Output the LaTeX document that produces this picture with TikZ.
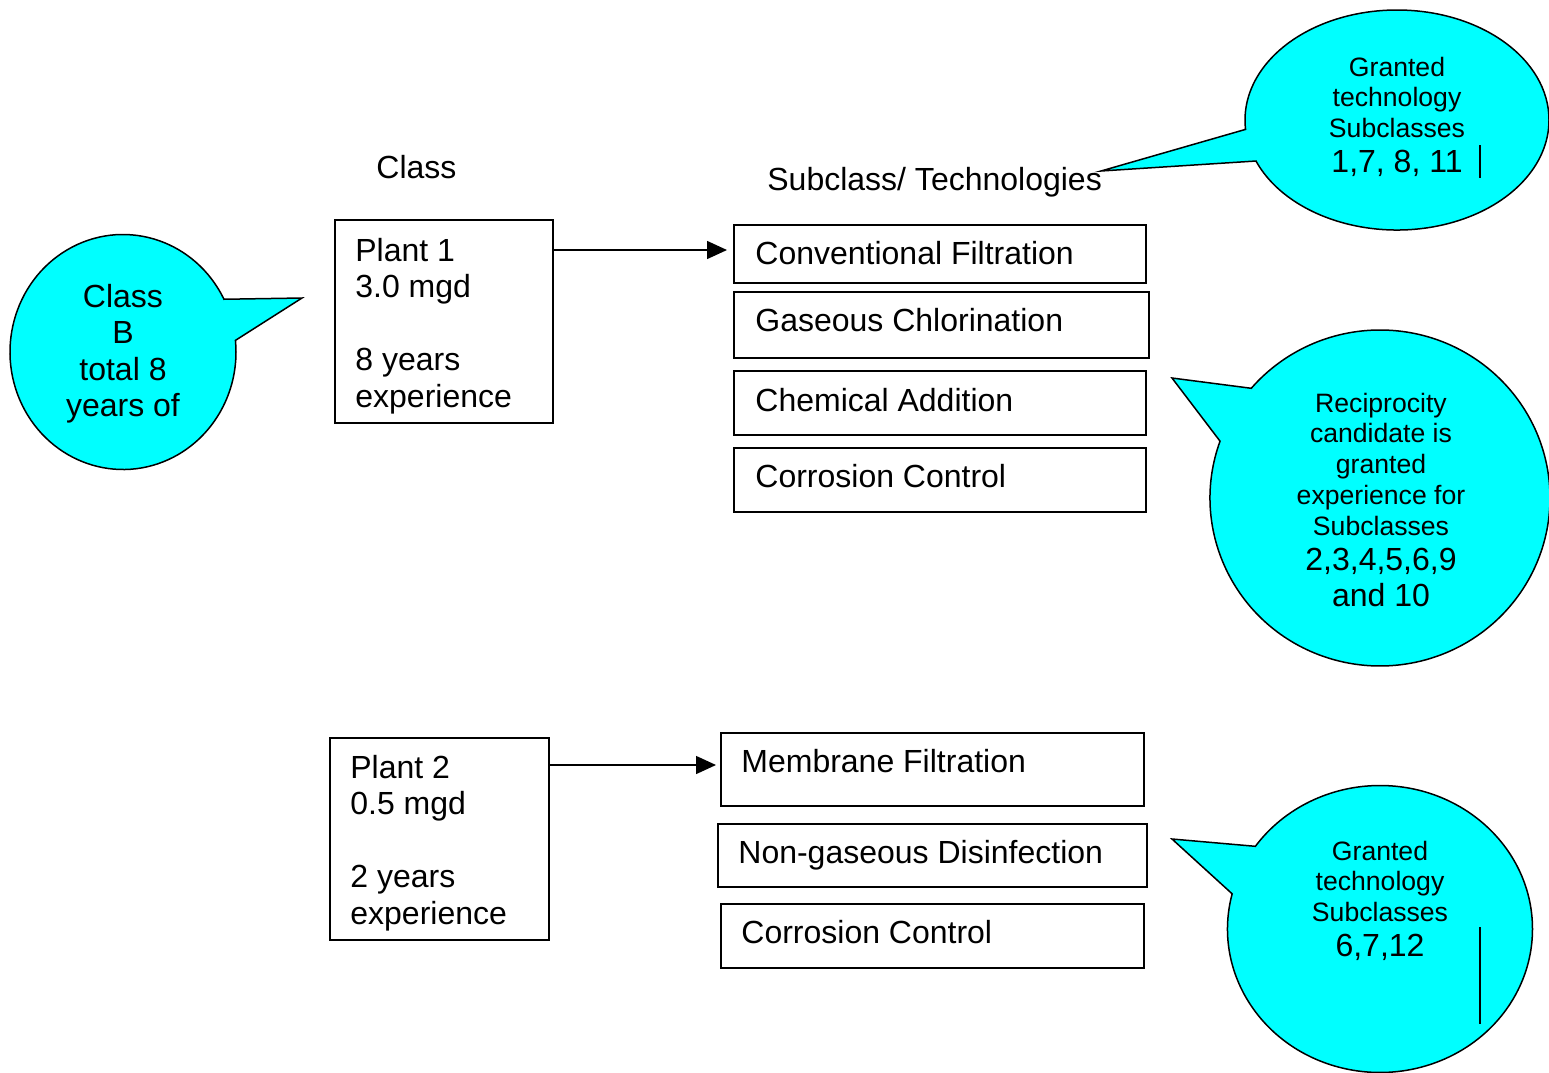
\documentclass[tikz,border=0pt]{standalone}
\usepackage{fontspec}
\setmainfont{Liberation Sans}
\usetikzlibrary{shapes.callouts,arrows.meta,calc}
\definecolor{bubble}{HTML}{00FFFF}
\tikzset{
  pbox/.style 2 args={draw, line width=0.75pt, rectangle, inner sep=0pt, anchor=north west,
    minimum width=#1*0.5pt, minimum height=#2*0.5pt},
  txt/.style={inner sep=0pt, font=\fontsize{16}{18.25}\selectfont},
  smalltxt/.style={inner sep=0pt, align=center, anchor=north},
  bubblestyle/.style 2 args={ellipse callout, draw, line width=0.75pt, fill=bubble, inner sep=0pt,
    minimum width=#1*0.5pt, minimum height=#2*0.5pt, callout pointer arc=21},
  arr/.style={line width=0.75pt, -{Triangle[length=10pt,width=9pt]}},
  vmark/.style={line width=0.75pt}
}
\begin{document}
\begin{tikzpicture}[x=0.5pt,y=-0.5pt]
\useasboundingbox (0,0) rectangle (1549,1072);

% callouts
\node[bubblestyle={226}{235}, callout absolute pointer={(302,298)}] (cb1) at (123,352) {};
\node[bubblestyle={304}{220}, callout absolute pointer={(1101,171)}, callout pointer arc=17] (cb2) at (1397,120) {};
\node[bubblestyle={340}{336}, callout absolute pointer={(1172,378)}] (cb3) at (1380,498) {};
\node[bubblestyle={305}{287}, callout absolute pointer={(1172,839)}] (cb4) at (1380,929) {};

% headers
\node[txt, anchor=base west] (hclass) at (376,178.5) {Class};
\node[txt, anchor=base west] (hsub) at (767,190.5) {Subclass/ Technologies};

% plant boxes
\node[pbox={218}{203}] (p1) at (334,219) {};
\node[txt, align=left, anchor=north west] (p1t) at (355,237.5) {Plant 1\\3.0 mgd\\ \\8 years\\experience};
\node[pbox={219}{202}] (p2) at (329,737) {};
\node[txt, align=left, anchor=north west] (p2t) at (350,754.5) {Plant 2\\0.5 mgd\\ \\2 years\\experience};

% technology boxes
\node[pbox={412}{58}] (cf) at (733,224) {};
\node[pbox={415}{66}] (gc) at (733,291) {};
\node[pbox={412}{64}] (ca) at (733,370) {};
\node[pbox={412}{64}] (cc1) at (733,447) {};
\node[pbox={423}{73}] (mf) at (720,732) {};
\node[pbox={429}{63}] (nd) at (717,823) {};
\node[pbox={423}{64}] (cc2) at (720,903) {};

\node[txt, anchor=base west] (cft) at (755,264.5) {Conventional Filtration};
\node[txt, anchor=base west] (gct) at (755,331.5) {Gaseous Chlorination};
\node[txt, anchor=base west] (cat) at (755,411.5) {Chemical Addition};
\node[txt, anchor=base west] (cc1t) at (755,487.5) {Corrosion Control};
\node[txt, anchor=base west] (mft) at (741,772.5) {Membrane Filtration};
\node[txt, anchor=base west] (ndt) at (738,863.5) {Non-gaseous Disinfection};
\node[txt, anchor=base west] (cc2t) at (741,943.5) {Corrosion Control};

% arrows
\coordinate (a1) at ([yshift=-15.5pt]p1.north east);
\draw[arr, shorten >=3pt] (a1) -- (a1 -| cf.west);
\coordinate (a2) at ([yshift=-14pt]p2.north east);
\draw[arr, shorten >=2pt] (a2) -- (a2 -| mf.west);

% callout texts
\node[txt, align=center, anchor=north] (cb1t) at (123,283.5) {Class\\B\\total 8\\years of};

\node[smalltxt, font=\fontsize{13.3}{15.25}\selectfont] (cb2t) at (1397,56.5) {Granted\\technology\\Subclasses};
\node[txt, anchor=base] (cb2n) at (1397,172.5) {1,7, 8, 11};
\draw[vmark] (1480,145) -- (1480,178);

\node[smalltxt, font=\fontsize{13.3}{15.4}\selectfont] (cb3t) at (1381,392.5) {Reciprocity\\candidate is\\granted\\experience for\\Subclasses};
\node[txt, align=center, anchor=north, font=\fontsize{16}{18}\selectfont] (cb3n) at (1381,547.5) {2,3,4,5,6,9\\and 10};

\node[smalltxt, font=\fontsize{13.3}{15.25}\selectfont] (cb4t) at (1380,840.5) {Granted\\technology\\Subclasses};
\node[txt, anchor=base] (cb4n) at (1380,956.5) {6,7,12};
\draw[vmark] (1480,927) -- (1480,1024);
\end{tikzpicture}
\end{document}
